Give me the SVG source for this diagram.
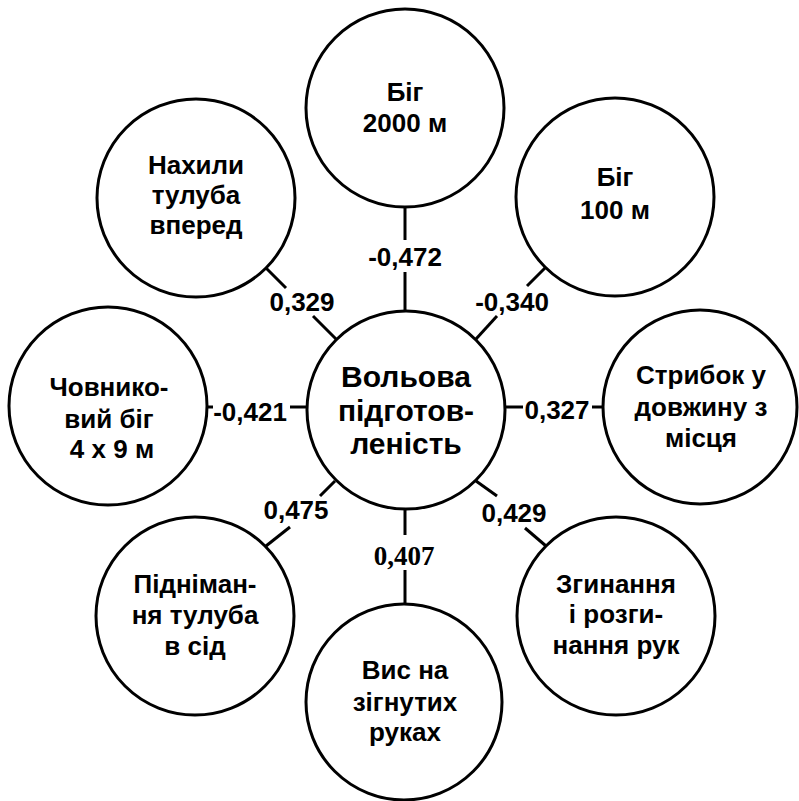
<svg xmlns="http://www.w3.org/2000/svg" width="799" height="801" viewBox="0 0 799 801">
  <style>
    .node circle { fill: #fff; stroke: #000; stroke-width: 3; }
    .node text { font-family: "Liberation Sans", Arial, sans-serif; font-weight: bold; font-size: 26px; text-anchor: middle; fill: #000; }
    .node.main text { font-size: 30px; }
    .links line { stroke: #000; stroke-width: 3; }
    .lbl { font-family: "Liberation Sans", Arial, sans-serif; font-weight: bold; font-size: 26px; text-anchor: middle; fill: #000; }
    .lbl.serif { font-family: "Liberation Serif", "Times New Roman", serif; font-size: 27px; }
  </style>
  <rect width="799" height="801" fill="#fff"/>

  <!-- connectors with correlation coefficients -->
  <g id="links" class="links">
    <line x1="405" y1="207" x2="405" y2="240"/>
    <line x1="405" y1="272" x2="405" y2="311"/>
    <line x1="266" y1="268" x2="286" y2="288"/>
    <line x1="313" y1="316" x2="336" y2="339"/>
    <line x1="545" y1="268" x2="527" y2="286"/>
    <line x1="497" y1="316" x2="476" y2="339"/>
    <line x1="207" y1="407" x2="213" y2="407"/>
    <line x1="290" y1="407" x2="307" y2="407"/>
    <line x1="504" y1="407" x2="523" y2="407"/>
    <line x1="592" y1="407" x2="603" y2="407"/>
    <line x1="335" y1="481" x2="320" y2="496"/>
    <line x1="290" y1="527" x2="266" y2="546"/>
    <line x1="476" y1="481" x2="497" y2="496"/>
    <line x1="525" y1="528" x2="546" y2="546"/>
    <line x1="405" y1="509" x2="405" y2="535"/>
    <line x1="405" y1="570" x2="405" y2="604"/>
    <text class="lbl" x="405" y="266">-0,472</text>
    <text class="lbl" x="302" y="311">0,329</text>
    <text class="lbl" x="512" y="311">-0,340</text>
    <text class="lbl" x="250" y="421">-0,421</text>
    <text class="lbl" x="557" y="419">0,327</text>
    <text class="lbl" x="296" y="519">0,475</text>
    <text class="lbl" x="514" y="522">0,429</text>
    <text class="lbl serif" x="404" y="565">0,407</text>
  </g>

  <g id="center" class="node main">
    <circle cx="406" cy="410" r="99"/>
    <text x="406" y="387">Вольова</text>
    <text x="406" y="421">підготов-</text>
    <text x="406" y="454">леність</text>
  </g>

  <g id="run2000" class="node">
    <circle cx="405" cy="108" r="99"/>
    <text x="405" y="101">Біг</text>
    <text x="405" y="132">2000 м</text>
  </g>

  <g id="run100" class="node">
    <circle cx="615" cy="197" r="99"/>
    <text x="615" y="186">Біг</text>
    <text x="615" y="219">100 м</text>
  </g>

  <g id="bends" class="node">
    <circle cx="196" cy="198" r="99"/>
    <text x="196" y="174">Нахили</text>
    <text x="196" y="204">тулуба</text>
    <text x="196" y="234">вперед</text>
  </g>

  <g id="shuttle" class="node">
    <circle cx="108" cy="406" r="99"/>
    <text x="109" y="396">Човнико-</text>
    <text x="109" y="428">вий біг</text>
    <text x="112" y="458">4 х 9 м</text>
  </g>

  <g id="jump" class="node">
    <circle cx="700" cy="407" r="97"/>
    <text x="701" y="384">Стрибок у</text>
    <text x="701" y="416">довжину з</text>
    <text x="701" y="447">місця</text>
  </g>

  <g id="situps" class="node">
    <circle cx="195" cy="616" r="99"/>
    <text x="195" y="593">Підніман-</text>
    <text x="195" y="624">ня тулуба</text>
    <text x="195" y="655">в сід</text>
  </g>

  <g id="hang" class="node">
    <circle cx="404" cy="702" r="98"/>
    <text x="405" y="679">Вис на</text>
    <text x="405" y="711">зігнутих</text>
    <text x="405" y="741">руках</text>
  </g>

  <g id="pushups" class="node">
    <circle cx="616" cy="616" r="99"/>
    <text x="616" y="593">Згинання</text>
    <text x="616" y="623">і розги-</text>
    <text x="616" y="654">нання рук</text>
  </g>
</svg>
